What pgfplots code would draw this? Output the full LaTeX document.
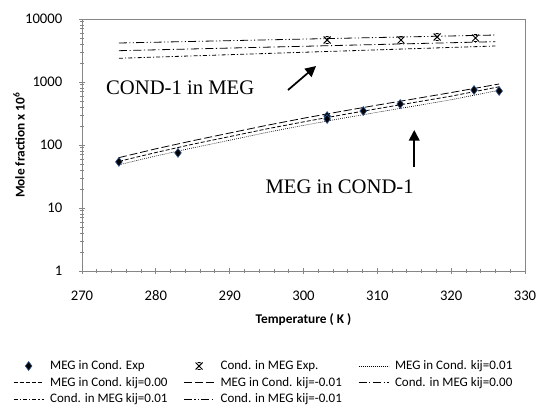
\documentclass[border=0pt]{standalone}
\usepackage{pgfplots}
\pgfplotsset{compat=1.18}
\usepackage{fontspec}
\setmainfont{Carlito}
\newfontfamily\tnr{Liberation Serif}
\usetikzlibrary{arrows.meta}
\definecolor{axgray}{RGB}{134,134,134}
\definecolor{mkblue}{RGB}{45,80,135}

\pgfdeclareplotmark{xbar}{%
  \pgfpathmoveto{\pgfqpoint{-\pgfplotmarksize}{\pgfplotmarksize}}%
  \pgfpathlineto{\pgfqpoint{\pgfplotmarksize}{-\pgfplotmarksize}}%
  \pgfpathmoveto{\pgfqpoint{-\pgfplotmarksize}{-\pgfplotmarksize}}%
  \pgfpathlineto{\pgfqpoint{\pgfplotmarksize}{\pgfplotmarksize}}%
  \pgfpathmoveto{\pgfqpoint{-0.45\pgfplotmarksize}{\pgfplotmarksize}}%
  \pgfpathlineto{\pgfqpoint{0.45\pgfplotmarksize}{\pgfplotmarksize}}%
  \pgfpathmoveto{\pgfqpoint{-0.45\pgfplotmarksize}{-\pgfplotmarksize}}%
  \pgfpathlineto{\pgfqpoint{0.45\pgfplotmarksize}{-\pgfplotmarksize}}%
  \pgfusepathqstroke}

\begin{document}
\begin{tikzpicture}
\useasboundingbox (0,0) rectangle (405pt,306pt);
\begin{axis}[
  scale only axis, width=332.25pt, height=189pt,
  at={(61.5pt,102.75pt)}, anchor=south west,
  xmin=270, xmax=330, ymin=1, ymax=10000, ymode=log, log basis y=10,
  xtick={270,280,290,300,310,320,330}, minor x tick num=4,
  xticklabels={270,280,290,300,310,320,330},
  ytick={1,10,100,1000,10000}, yticklabels={1,10,100,1000,10000},
  minor ytick={2,3,4,5,6,7,8,9,20,30,40,50,60,70,80,90,200,300,400,500,600,700,800,900,2000,3000,4000,5000,6000,7000,8000,9000},
  tick pos=left, tick align=center,
  major tick length=4.5pt, minor tick length=2.5pt,
  every tick/.style={axgray, line width=0.6pt},
  axis line style={axgray, line width=0.6pt},
  /pgf/number format/assume math mode=true,
  ticklabel style={font=\fontsize{11}{13}\selectfont},
  xticklabel style={anchor=center, yshift=-16.5pt},
  yticklabel style={anchor=east, xshift=-9pt},
  xlabel={\textbf{Temperature ( K )}},
  ylabel={\textbf{Mole fraction x 10\textsuperscript{6}}},
  label style={font=\fontsize{10}{12}\selectfont},
  x label style={at={(axis description cs:0.5,-0.1944)}, anchor=center},
  y label style={at={(axis description cs:-0.1422,0.5)}, anchor=center, rotate=0},
  legend columns=3,
  legend cell align=left,
  legend image code/.code={\draw[mark repeat=2,mark phase=2,#1] plot coordinates {(0pt,0pt) (11.25pt,0pt) (22.5pt,0pt)};},
  legend style={at={(-0.1558,-0.343)}, anchor=north west, draw=none, fill=none,
    inner sep=0pt, font=\fontsize{9.75}{11}\selectfont,
    nodes={inner sep=2.1pt},
    /tikz/every odd column/.append style={column sep=2.5pt},
    /tikz/every even column/.append style={column sep=10pt}},
]
% MEG in Cond. Exp
\addplot[only marks, mark=diamond*, mark size=3.3pt, mark options={fill=black, draw=mkblue, line width=0.5pt}]
  coordinates {(275,54) (283,75) (303.2,288) (303.2,259) (308.1,347) (313.1,447) (323.1,746) (326.5,720)};
\addlegendentry{MEG in Cond. Exp}
% Cond. in MEG Exp.
\addplot[only marks, mark=xbar, mark size=2.6pt, mark options={black, line width=0.7pt}]
  coordinates {(303.2,4640) (313.2,4640) (318.1,5180) (323.3,4990)};
\addlegendentry{Cond. in MEG Exp.}
% MEG in Cond. kij=0.01
\addplot[black, line width=0.5pt, no marks, dash pattern=on 0.6pt off 0.9pt]
  coordinates {(275,48.5) (280,67) (285,90) (290,119) (295,158) (300,205) (305,262) (310,331) (315,415) (320,523) (326.5,740)};
\addlegendentry{MEG in Cond. kij=0.01}
% MEG in Cond. kij=0.00
\addplot[black, line width=0.6pt, no marks, dash pattern=on 3pt off 1.5pt]
  coordinates {(275,55) (280,76) (285,103) (290,136) (295,180) (300,233) (305,298) (310,377) (315,474) (320,596) (326.5,840)};
\addlegendentry{MEG in Cond. kij=0.00}
% MEG in Cond. kij=-0.01
\addplot[black, line width=0.6pt, no marks, dash pattern=on 6pt off 2.2pt]
  coordinates {(275,63) (280,87) (285,117) (290,155) (295,205) (300,266) (305,340) (310,430) (315,540) (320,680) (326.5,930)};
\addlegendentry{MEG in Cond. kij=-0.01}
% Cond. in MEG kij=0.00
\addplot[black, line width=0.6pt, no marks, dash pattern=on 6pt off 2pt on 0.8pt off 2pt]
  coordinates {(275,3140) (300,3690) (326,4370)};
\addlegendentry{Cond. in MEG kij=0.00}
% Cond. in MEG kij=0.01
\addplot[black, line width=0.6pt, no marks, dash pattern=on 3pt off 1.6pt on 0.8pt off 1.6pt]
  coordinates {(275,2380) (300,2965) (326,3730)};
\addlegendentry{Cond. in MEG kij=0.01}
% Cond. in MEG kij=-0.01
\addplot[black, line width=0.6pt, no marks, dash pattern=on 6pt off 1.8pt on 0.8pt off 1.8pt on 0.8pt off 1.8pt]
  coordinates {(275,4160) (300,4800) (326,5570)};
\addlegendentry{Cond. in MEG kij=-0.01}

\node[font=\tnr\fontsize{15.5}{18}\selectfont] at (axis cs:283.3,803) {COND-1 in MEG};
\node[font=\tnr\fontsize{15.5}{18}\selectfont] at (axis cs:304.9,21.5) {MEG in COND-1};
\draw[-{Triangle[length=8pt,width=8pt]}, line width=1.3pt] (axis cs:297.9,746) -- (axis cs:301.7,1795);
\draw[-{Triangle[length=8pt,width=8pt]}, line width=1.3pt] (axis cs:315,44.8) -- (axis cs:315,173);
\end{axis}
\end{tikzpicture}
\end{document}
